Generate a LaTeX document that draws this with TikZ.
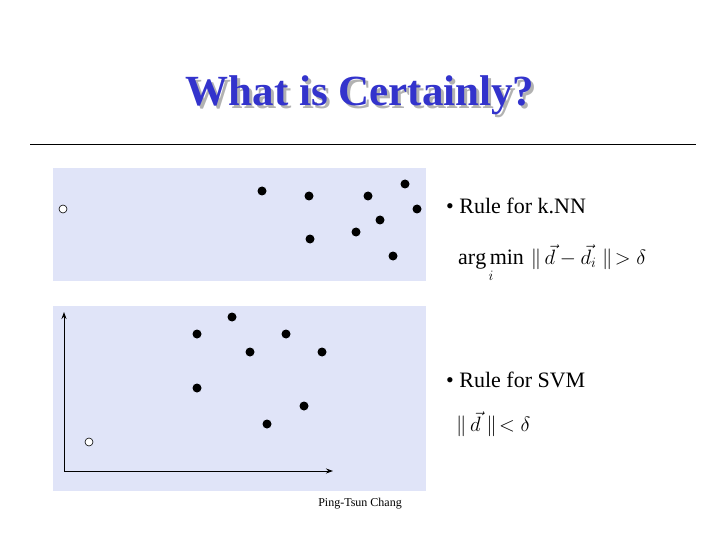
\documentclass[tikz,border=0pt]{standalone}
\usepackage{fontspec}
\setmainfont{Liberation Serif}
\usetikzlibrary{arrows.meta}
\definecolor{bgbox}{RGB}{224,228,248}
\definecolor{ttl}{RGB}{51,51,204}
\tikzset{fdot/.style={circle,fill=black,inner sep=0pt,minimum size=9pt},
odot/.style={circle,draw=black,fill=white,inner sep=0pt,minimum size=8pt,line width=0.6pt},
txt/.style={anchor=west,inner sep=0pt,font=\fontsize{22}{26}\selectfont}}
\begin{document}
\begin{tikzpicture}[x=1pt,y=-1pt]
\useasboundingbox (0,0) rectangle (720,540);
\node[font=\bfseries\fontsize{43}{50}\selectfont,text=gray!60] at (363,98) {What is Certainly?};
\node[font=\bfseries\fontsize{43}{50}\selectfont,text=ttl] (title) at (360,95) {What is Certainly?};
\draw[line width=0.6pt] (30,144) -- (696,144);
\fill[bgbox] (53,168) rectangle (426,281);
\fill[bgbox] (53,306) rectangle (426,491);
\foreach \p [count=\i] in {(262,191),(309,196),(368,196),(405,184),(417,209),(380,220),(356,232),(310,239),(393,256)}
  \node[fdot] (a\i) at \p {};
\node[odot] (ao) at (63,209) {};
\coordinate (org) at (64,471);
\coordinate (yt) at (64,312);
\coordinate (xt) at (333,471);
\draw[line width=1pt,-{Stealth[length=7pt,width=5pt]}] (org) -- (yt);
\draw[line width=1pt,-{Stealth[length=7pt,width=5pt]}] (org) -- (xt);
\foreach \p [count=\i] in {(232,317),(197,334),(286,334),(250,352),(322,352),(197,388),(304,406),(267,424)}
  \node[fdot] (b\i) at \p {};
\node[odot] (bo) at (89,442) {};
\node[txt] (r1) at (446,206) {• Rule for k.NN};
\node[txt] (r2) at (446,380) {• Rule for SVM};
\node[anchor=west,inner sep=0pt,font=\fontsize{22}{26}\selectfont] (f1) at (458,263)
  {$\mathop{\mathrm{arg\,min}}\limits_{i}\,\|\,\vec{d}-\vec{d}_{i}\;\|\!>\delta$};
\node[anchor=west,inner sep=0pt,font=\fontsize{22}{26}\selectfont] (f2) at (456,424)
  {$\|\,\vec{d}\;\|\!<\delta$};
\node[font=\fontsize{12}{14}\selectfont] (foot) at (360,504) {Ping-Tsun Chang};
\end{tikzpicture}
\end{document}
